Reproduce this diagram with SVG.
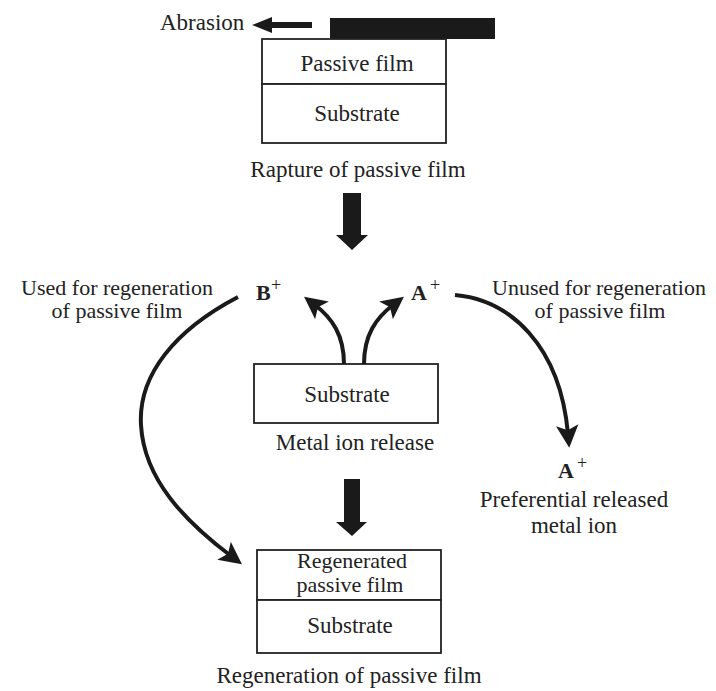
<svg xmlns="http://www.w3.org/2000/svg" width="716" height="691" viewBox="0 0 716 691">
<style>
text{font-family:"Liberation Serif","Times New Roman",serif;font-size:23px;fill:#222}
.c{text-anchor:middle}
.s{font-size:22px}
.b{font-weight:bold;font-size:22px}
.sup{font-size:18px}
.box{fill:#fff;stroke:#222;stroke-width:1.8}
.con{fill:none;stroke:#1a1a1a;stroke-width:4}
.blk{fill:#1a1a1a}
</style>
<defs>
<marker id="ah" markerUnits="userSpaceOnUse" markerWidth="30" markerHeight="30" refX="0" refY="0" viewBox="-10 -12 24 24" orient="auto" overflow="visible">
<path d="M11,0 L-7,-9 L-3,0 L-7,9 Z" fill="#1a1a1a"/>
</marker>
</defs>
<rect width="716" height="691" fill="#fff"/>

<g id="abrasion">
<text x="160" y="30">Abrasion</text>
<polygon class="blk" points="252,25 272,17 272,22 312,22 312,28 272,28 272,33"/>
<rect class="blk" x="330" y="18" width="165" height="21"/>
</g>

<g id="top-stack">
<rect class="box" x="262" y="39" width="184" height="45"/>
<rect class="box" x="262" y="84" width="184" height="59"/>
<text class="c" x="357" y="71">Passive film</text>
<text class="c" x="357" y="121">Substrate</text>
<text class="c" x="358" y="177">Rapture of passive film</text>
</g>

<g id="big-arrow-1">
<polygon class="blk" points="343,193 361,193 361,235 368,235 352,250 336,235 343,235"/>
</g>

<g id="ion-B">
<text class="b" x="256" y="300">B</text><text class="sup" x="271" y="291">+</text>
</g>
<g id="ion-A">
<text class="b" x="411" y="300">A</text><text class="sup" x="430" y="291">+</text>
</g>

<g id="label-used">
<text class="c s" x="117" y="295">Used for regeneration</text>
<text class="c s" x="117" y="318">of passive film</text>
</g>
<g id="label-unused">
<text class="c s" x="599" y="295">Unused for regeneration</text>
<text class="c s" x="600" y="318">of passive film</text>
</g>

<g id="mid-substrate">
<rect class="box" x="254" y="364" width="184" height="59"/>
<text class="c" x="347" y="402">Substrate</text>
<text class="c" x="355" y="450">Metal ion release</text>
</g>

<g id="released-ion">
<text class="b" x="558" y="478">A</text><text class="sup" x="577" y="469">+</text>
<text class="c" x="574" y="507">Preferential released</text>
<text class="c" x="574" y="533">metal ion</text>
</g>

<g id="big-arrow-2">
<polygon class="blk" points="344,479 360,479 360,522 367,522 352,536 336,522 344,522"/>
</g>

<g id="bottom-stack">
<rect class="box" x="257" y="550" width="184" height="50"/>
<rect class="box" x="257" y="600" width="184" height="53"/>
<text class="c s" x="352" y="568">Regenerated</text>
<text class="c s" x="350" y="592">passive film</text>
<text class="c" x="350" y="633">Substrate</text>
<text class="c" x="349" y="683">Regeneration of passive film</text>
</g>

<g id="connectors">
<path class="con" d="M238,297 C175,330 138,375 141,425 C144,480 186,522 231,556" marker-end="url(#ah)"/>
<path class="con" d="M455,295 C510,300 560,345 568,434" marker-end="url(#ah)"/>
<path class="con" d="M344,364 C344,335 332,318 315,305" marker-end="url(#ah)"/>
<path class="con" d="M364,364 C364,335 376,318 393,305" marker-end="url(#ah)"/>
</g>
</svg>
